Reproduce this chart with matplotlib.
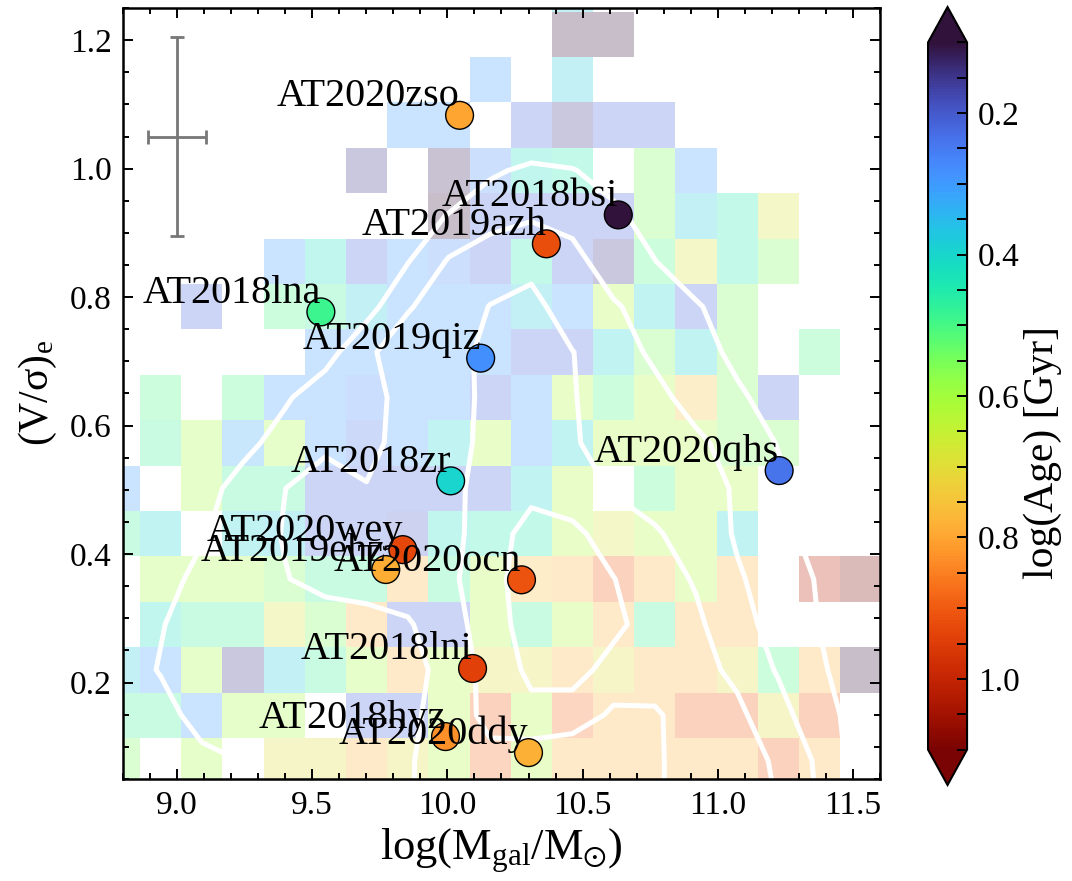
import numpy as np
import matplotlib
matplotlib.use("Agg")
import matplotlib.pyplot as plt
from matplotlib.ticker import MultipleLocator

plt.rcParams['font.family'] = 'serif'
plt.rcParams['font.serif'] = ['Liberation Serif', 'DejaVu Serif']
plt.rcParams['mathtext.fontset'] = 'stix'
plt.rcParams['mathtext.default'] = 'regular'

# TDE host galaxies
names = ['AT2020zso', 'AT2018bsi', 'AT2019azh', 'AT2018lna', 'AT2019qiz',
         'AT2020qhs', 'AT2018zr', 'AT2020wey', 'AT2019ehz', 'AT2020ocn',
         'AT2018lni', 'AT2018hyz', 'AT2020ddy']
logmass = [10.045, 10.632, 10.366, 9.532, 10.123, 11.227, 10.012, 9.835, 9.772,
           10.274, 10.093, 9.993, 10.30]
vsigma = [1.083, 0.928, 0.883, 0.777, 0.705, 0.530, 0.514, 0.407, 0.376,
          0.360, 0.222, 0.116, 0.091]
logage = [0.80, 0.10, 0.92, 0.49, 0.28, 0.24, 0.40, 0.93, 0.79, 0.91, 0.94,
          0.83, 0.78]

# typical uncertainty
err_x, err_y = 9.0, 1.05
err_dx, err_dy = 0.107, 0.155

# comparison sample binned in mass and V/sigma: mean log(Age) per cell
n = np.nan
mass_edges = np.linspace(8.711, 11.605, 20)
vs_edges = np.linspace(1.315, 0.043, 19)
age_grid = np.array([
    [n, n, n, n, n, n, n, n, n, n, n, 0.38, n, n, n, n, n, n, n],
    [n, n, n, n, n, n, n, n, n, n, n, 0.08, 0.08, n, n, n, n, n, n],
    [n, n, n, n, n, n, n, n, n, 0.30, n, 0.38, n, n, n, n, n, n, n],
    [n, n, n, n, n, n, n, 0.30, 0.30, n, 0.22, 0.15, 0.22, 0.22, n, n, n, n, n],
    [n, n, n, n, n, n, 0.15, n, 0.12, 0.28, 0.42, 0.45, n, 0.55, 0.30, n, n, n, n],
    [n, n, n, n, n, n, n, n, 0.06, 0.22, 0.22, 0.22, 0.22, 0.55, 0.38, 0.45, 0.68, n, n],
    [n, n, n, n, 0.30, 0.42, 0.22, 0.30, 0.28, 0.22, 0.45, 0.22, 0.15, 0.50, 0.68, 0.45, 0.55, n, n],
    [n, n, 0.22, n, 0.50, 0.48, 0.38, 0.30, 0.30, 0.30, 0.38, 0.30, 0.62, 0.40, 0.22, 0.55, n, n, n],
    [n, n, n, n, n, 0.30, 0.30, 0.30, 0.30, 0.30, 0.22, 0.22, 0.40, 0.55, 0.40, 0.55, n, 0.50, n],
    [n, 0.50, n, 0.50, 0.30, 0.30, 0.27, 0.30, 0.30, 0.22, 0.30, 0.62, 0.50, 0.62, 0.75, 0.55, 0.22, n, n],
    [n, 0.48, 0.60, 0.32, 0.60, 0.30, 0.24, 0.30, 0.40, 0.62, 0.30, 0.40, 0.62, 0.62, 0.62, 0.55, 0.55, n, n],
    [0.30, n, 0.60, 0.48, 0.48, 0.22, 0.22, 0.22, 0.22, 0.22, 0.40, 0.62, n, 0.50, 0.62, 0.62, n, n, n],
    [0.48, 0.40, n, 0.40, 0.38, 0.22, 0.22, 0.20, 0.42, 0.45, 0.45, 0.62, 0.68, 0.62, 0.62, 0.40, n, n, n],
    [n, 0.60, 0.60, 0.60, 0.55, 0.48, 0.48, 0.78, 0.48, 0.62, 0.76, 0.78, 0.90, 0.78, 0.62, 0.78, n, 1.02, 1.12],
    [n, 0.42, 0.48, 0.48, 0.68, 0.55, 0.78, 0.22, 0.22, 0.62, 0.48, 0.62, 0.78, 0.48, 0.78, 0.78, n, n, n],
    [0.38, 0.30, 0.60, 0.15, 0.38, 0.48, 0.60, 0.78, 0.62, 0.70, 0.70, 0.78, 0.70, 0.78, 0.78, 0.70, 0.50, 0.78, 0.06],
    [0.48, 0.48, 0.30, 0.60, 0.60, n, 0.22, 0.22, 0.62, 0.90, 0.62, 0.88, 0.78, 0.78, 0.90, 0.90, 0.70, 0.90, n],
    [0.55, n, 0.60, n, 0.70, 0.70, 0.78, 0.70, 0.62, 0.88, 0.62, 0.78, 0.78, 0.78, 0.78, 0.78, 0.90, 0.78, n],
])

# smoothed number density of the same sample on the bin centres
dens_x = np.linspace(8.787, 11.681, 20)
dens_y = np.linspace(1.209, 0.008, 18)
dens = np.array([
    [0] * 20,
    [0] * 20,
    [0] * 20,
    [0, 0, 0, 0, 0, 0, 0, 0, 0.3, 0.85, 1.2, 1.05, 0.6, 0.2, 0, 0, 0, 0, 0, 0],
    [0, 0, 0, 0, 0, 0, 0, 0.5, 1.05, 1.6, 1.9, 1.7, 1.2, 0.6, 0.1, 0, 0, 0, 0, 0],
    [0, 0, 0, 0, 0, 0, 0.4, 0.95, 2.1, 2.6, 2.7, 2.3, 1.5, 1.02, 0.4, 0, 0, 0, 0, 0],
    [0, 0, 0, 0, 0, 0.1, 0.6, 1.9, 2.6, 3.02, 3.3, 2.48, 2.1, 1.6, 1.1, 0.5, 0, 0, 0, 0],
    [0, 0, 0, 0, 0.1, 0.6, 1.8, 2.6, 2.7, 3.2, 3.4, 3.02, 2.5, 1.8, 1.5, 0.7, 0.2, 0, 0, 0],
    [0, 0, 0, 0.2, 0.85, 1.6, 1.7, 2.3, 2.5, 3.3, 3.5, 3.05, 2.6, 2.3, 1.6, 1.2, 0.5, 0, 0, 0],
    [0, 0, 0.1, 0.7, 1.4, 1.8, 1.7, 2.4, 2.6, 3.3, 3.6, 3.1, 2.6, 2.4, 2.2, 1.6, 0.95, 0.4, 0, 0],
    [0, 0.2, 0.6, 1.4, 1.98, 2.45, 2.05, 2.6, 2.8, 3.3, 3.7, 3.5, 2.9, 2.6, 2.4, 1.9, 1.2, 0.6, 0.1, 0],
    [0, 0.5, 0.9, 1.5, 2.05, 2.5, 2.5, 2.6, 2.7, 3.5, 4.4, 4.2, 3.6, 3.1, 2.6, 1.9, 1.25, 0.7, 0.2, 0],
    [0.1, 0.6, 1.3, 1.6, 1.95, 2.3, 2.3, 2.5, 2.8, 3.6, 4.6, 4.5, 4.02, 3.5, 2.9, 2.1, 1.6, 0.9, 0.3, 0],
    [0.3, 0.95, 1.4, 1.4, 1.4, 1.54, 1.75, 1.9, 2.6, 3.5, 4.5, 4.6, 4.2, 3.6, 3.2, 2.3, 1.7, 0.98, 0.4, 0],
    [0.6, 1.05, 1.4, 1.5, 1.5, 1.6, 1.7, 1.7, 2.3, 3.4, 4.2, 4.3, 3.7, 3.4, 3.3, 2.8, 1.9, 1.1, 0.6, 0.1],
    [0.4, 0.7, 1.3, 1.5, 1.5, 1.6, 1.7, 1.8, 2.4, 3.3, 3.75, 3.62, 2.8, 2.9, 3.4, 3.2, 2.4, 1.3, 0.7, 0.1],
    [0.3, 0.5, 0.8, 1.02, 1.4, 1.5, 1.6, 1.9, 2.5, 2.7, 2.34, 2.1, 2.3, 2.85, 3.5, 3.3, 2.9, 1.8, 0.5, 0.1],
    [0.3, 0.5, 0.7, 0.95, 1.4, 1.5, 1.6, 1.9, 2.5, 2.7, 2.4, 2.2, 2.3, 2.85, 3.5, 3.4, 2.98, 1.9, 0.6, 0.1],
])
dens_levels = [1, 2, 3, 4]

age_min, age_max = 0.1, 1.1
cmap = plt.get_cmap('turbo')

fig = plt.figure(figsize=(10.72, 8.81), dpi=100)
ax = fig.add_axes([0.1147, 0.1158, 0.7062, 0.8751])
cax = fig.add_axes([0.8657, 0.109, 0.0364, 0.883])

ax.pcolormesh(mass_edges, vs_edges, age_grid, cmap=cmap, vmin=age_min, vmax=age_max,
              alpha=0.27, shading='flat', edgecolors='none', zorder=1)
ax.contour(dens_x, dens_y[::-1], dens[::-1], levels=dens_levels, colors='white',
           linewidths=3.6, zorder=2)

sc = ax.scatter(logmass, vsigma, c=logage, cmap=cmap, vmin=age_min, vmax=age_max,
                s=400, edgecolors='black', linewidths=1.0, zorder=4)
for name, xm, yv in zip(names, logmass, vsigma):
    ax.text(xm, yv, name, ha='right', va='bottom', fontsize=29, zorder=5)

ax.errorbar(err_x, err_y, xerr=err_dx, yerr=err_dy, color='#777777', lw=2,
            capsize=5, capthick=2, zorder=3)

ax.set_xlim(8.8, 11.6)
ax.set_ylim(0.05, 1.25)
ax.xaxis.set_major_locator(MultipleLocator(0.5))
ax.xaxis.set_minor_locator(MultipleLocator(0.1))
ax.yaxis.set_major_locator(MultipleLocator(0.2))
ax.yaxis.set_minor_locator(MultipleLocator(0.05))
ax.tick_params(which='both', direction='in', top=True, right=True, width=1.4,
               labelsize=24, pad=8)
ax.tick_params(which='major', length=7)
ax.tick_params(which='minor', length=4.5)
for sp in ax.spines.values():
    sp.set_linewidth(1.8)

ax.set_xlabel(r'$log(M_{gal}/M_{\odot})$', fontsize=32, labelpad=4)
ax.set_ylabel(r'$(V/\sigma)_e$', fontsize=30, labelpad=8)

cbar = fig.colorbar(sc, cax=cax, extend='both')
cbar.ax.invert_yaxis()
cbar.set_ticks([0.2, 0.4, 0.6, 0.8, 1.0])
cbar.ax.yaxis.set_minor_locator(MultipleLocator(0.05))
cbar.ax.tick_params(which='both', direction='in', length=7, width=1.4,
                    labelsize=24, pad=8)
cbar.outline.set_linewidth(1.5)
cbar.set_label('log(Age) [Gyr]', fontsize=30)
cbar.ax.yaxis.set_label_coords(2.45, 0.42)

fig.savefig('out.png', dpi=100)
